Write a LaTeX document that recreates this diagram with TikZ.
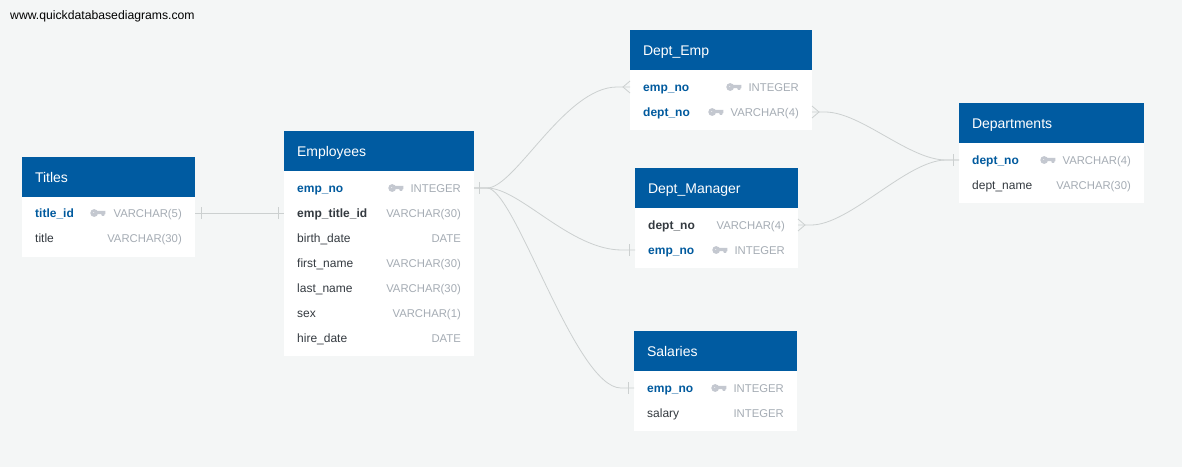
\documentclass[tikz,border=0pt]{standalone}
\usepackage{fontspec}
\setmainfont{Liberation Sans}
\usetikzlibrary{positioning,calc}
\definecolor{erbg}{RGB}{244,246,246}
\definecolor{erhead}{RGB}{0,91,161}
\definecolor{erpk}{RGB}{0,90,158}
\definecolor{ername}{RGB}{52,58,64}
\definecolor{ertype}{RGB}{165,172,180}
\definecolor{erkey}{RGB}{196,200,208}
\definecolor{erline}{RGB}{204,208,208}
\tikzset{
    tablehead/.style={fill=erhead, text=white, anchor=north west, outer sep=0pt, inner xsep=13pt, inner ysep=0pt, minimum height=40pt, text height=14pt, text depth=3pt, align=left, text width=#1, font=\fontsize{14}{16}\selectfont},
    tablebody/.style={fill=white, outer sep=0pt, inner sep=0pt},
    fieldname/.style={anchor=west, inner sep=0pt, text=ername, text height=11pt, text depth=3pt, font=\fontsize{12}{14}\selectfont},
    fieldfk/.style={fieldname, font=\fontsize{12}{14}\selectfont\bfseries},
    fieldpk/.style={fieldfk, text=erpk},
    fieldtype/.style={anchor=east, inner sep=0pt, text=ertype, text height=11pt, text depth=3pt, xshift=-13pt, font=\fontsize{11.3}{14}\selectfont},
    relation/.style={draw=erline, line width=0.8pt},
    keyicon/.pic={
        \fill[erkey, even odd rule] (-11.2,0) circle (3.9) (-11.6,-0.4) circle (0.7);
        \fill[erkey] (-8.5,-2.1) -- (0,-2.1) -- (0,1) -- (-0.6,1) -- (-1.4,2.9) -- (-3.4,2.9) -- (-4.2,1) -- (-8.5,1) -- cycle;
    },
    barmark/.pic={\draw[relation] (0,-6) -- (0,6);},
    manymark/.pic={\draw[relation] (7,-6) -- (0,0) -- (7,6);}
}

\begin{document}
\begin{tikzpicture}[x=1pt, y=-1pt]
        \useasboundingbox (0,0) rectangle (1182,467);
        \fill[erbg] (0,0) rectangle (1182,467);
        \node[anchor=west, inner sep=0pt, font=\fontsize{12.2}{14}\selectfont] (site) at (10,16) {www.quickdatabasediagrams.com};

        % Titles
        \node[tablehead={147pt}] (tit) at (22,157) {Titles};
        \node[tablebody, below=0pt of tit, minimum width=173pt, minimum height=60pt] (titbody) {};
        \node[below right=16pt and 13pt of tit.south west, fieldpk] (titid) {title\_id};
        \node[below=25pt of titid.west, fieldname] (tittitle) {title};
        \node[fieldtype] (titidtype) at (titid -| tit.east) {VARCHAR(5)};
        \node[fieldtype] (tittitletype) at (tittitle -| tit.east) {VARCHAR(30)};
        \pic at ([xshift=-8pt]titidtype.west) {keyicon};

        % Employees
        \node[tablehead={164pt}] (emp) at (284,131) {Employees};
        \node[tablebody, below=0pt of emp, minimum width=190pt, minimum height=185pt] (empbody) {};
        \node[below right=17pt and 13pt of emp.south west, fieldpk] (empno) {emp\_no};
        \node[below=25pt of empno.west, fieldfk] (empttl) {emp\_title\_id};
        \node[below=25pt of empttl.west, fieldname] (empbirth) {birth\_date};
        \node[below=25pt of empbirth.west, fieldname] (empfirst) {first\_name};
        \node[below=25pt of empfirst.west, fieldname] (emplast) {last\_name};
        \node[below=25pt of emplast.west, fieldname] (empsex) {sex};
        \node[below=25pt of empsex.west, fieldname] (emphire) {hire\_date};
        \node[fieldtype] (empnotype) at (empno -| emp.east) {INTEGER};
        \node[fieldtype] (empttltype) at (empttl -| emp.east) {VARCHAR(30)};
        \node[fieldtype] (empbirthtype) at (empbirth -| emp.east) {DATE};
        \node[fieldtype] (empfirsttype) at (empfirst -| emp.east) {VARCHAR(30)};
        \node[fieldtype] (emplasttype) at (emplast -| emp.east) {VARCHAR(30)};
        \node[fieldtype] (empsextype) at (empsex -| emp.east) {VARCHAR(1)};
        \node[fieldtype] (emphiretype) at (emphire -| emp.east) {DATE};
        \pic at ([xshift=-7pt]empnotype.west) {keyicon};

        % Dept_Emp
        \node[tablehead={156pt}] (dem) at (630,30) {Dept\_Emp};
        \node[tablebody, below=0pt of dem, minimum width=182pt, minimum height=60pt] (dembody) {};
        \node[below right=17pt and 13pt of dem.south west, fieldpk] (demempno) {emp\_no};
        \node[below=25pt of demempno.west, fieldpk] (demdeptno) {dept\_no};
        \node[fieldtype] (demempnotype) at (demempno -| dem.east) {INTEGER};
        \node[fieldtype] (demdeptnotype) at (demdeptno -| dem.east) {VARCHAR(4)};
        \pic at ([xshift=-7pt]demempnotype.west) {keyicon};
        \pic at ([xshift=-7pt]demdeptnotype.west) {keyicon};

        % Dept_Manager
        \node[tablehead={137pt}] (dmg) at (635,168) {Dept\_Manager};
        \node[tablebody, below=0pt of dmg, minimum width=163pt, minimum height=60pt] (dmgbody) {};
        \node[below right=17pt and 13pt of dmg.south west, fieldfk] (dmgdeptno) {dept\_no};
        \node[below=25pt of dmgdeptno.west, fieldpk] (dmgempno) {emp\_no};
        \node[fieldtype] (dmgdeptnotype) at (dmgdeptno -| dmg.east) {VARCHAR(4)};
        \node[fieldtype] (dmgempnotype) at (dmgempno -| dmg.east) {INTEGER};
        \pic at ([xshift=-7pt]dmgempnotype.west) {keyicon};

        % Salaries
        \node[tablehead={137pt}] (sal) at (634,331) {Salaries};
        \node[tablebody, below=0pt of sal, minimum width=163pt, minimum height=60pt] (salbody) {};
        \node[below right=17pt and 13pt of sal.south west, fieldpk] (salempno) {emp\_no};
        \node[below=25pt of salempno.west, fieldname] (salsalary) {salary};
        \node[fieldtype] (salempnotype) at (salempno -| sal.east) {INTEGER};
        \node[fieldtype] (salsalarytype) at (salsalary -| sal.east) {INTEGER};
        \pic at ([xshift=-7pt]salempnotype.west) {keyicon};

        % Departments
        \node[tablehead={159pt}] (dep) at (959,103) {Departments};
        \node[tablebody, below=0pt of dep, minimum width=185pt, minimum height=60pt] (depbody) {};
        \node[below right=17pt and 13pt of dep.south west, fieldpk] (depno) {dept\_no};
        \node[below=25pt of depno.west, fieldname] (depname) {dept\_name};
        \node[fieldtype] (depnotype) at (depno -| dep.east) {VARCHAR(4)};
        \node[fieldtype] (depnametype) at (depname -| dep.east) {VARCHAR(30)};
        \pic at ([xshift=-7pt]depnotype.west) {keyicon};

        % connector ends
        \coordinate (titR) at (titid -| tit.east);
        \coordinate (empL) at (empttl -| emp.west);
        \coordinate (empR) at (empno -| emp.east);
        \coordinate (demL) at (demempno -| dem.west);
        \coordinate (demR) at (demdeptno -| dem.east);
        \coordinate (dmgL) at (dmgempno -| dmg.west);
        \coordinate (dmgR) at (dmgdeptno -| dmg.east);
        \coordinate (salL) at (salempno -| sal.west);
        \coordinate (depL) at (depno -| dep.west);

        \draw[relation] (titR) -- (empL);
        \draw[relation] (empR) -- ++(13,0) .. controls (515,188) and (565,87) .. ([xshift=-13pt]demL) -- (demL);
        \draw[relation] (empR) -- ++(13,0) .. controls (520,188) and (570,250) .. ([xshift=-13pt]dmgL) -- (dmgL);
        \draw[relation] (empR) -- ++(13,0) .. controls (515,188) and (575,388) .. ([xshift=-13pt]salL) -- (salL);
        \draw[relation] (demR) -- ++(13,0) .. controls (861,112) and (909,160) .. ([xshift=-13pt]depL) -- (depL);
        \draw[relation] (dmgR) -- ++(13,0) .. controls (850,225) and (907,160) .. ([xshift=-13pt]depL) -- (depL);

        \pic at ([xshift=6pt]titR) {barmark};
        \pic at ([xshift=-6pt]empL) {barmark};
        \pic at ([xshift=5pt]empR) {barmark};
        \pic at ([xshift=-7pt]demL) {manymark};
        \pic[xscale=-1] at ([xshift=7pt]demR) {manymark};
        \pic at ([xshift=-6pt]dmgL) {barmark};
        \pic[xscale=-1] at ([xshift=7pt]dmgR) {manymark};
        \pic at ([xshift=-6pt]salL) {barmark};
        \pic at ([xshift=-6pt]depL) {barmark};
    \end{tikzpicture}
\end{document}
